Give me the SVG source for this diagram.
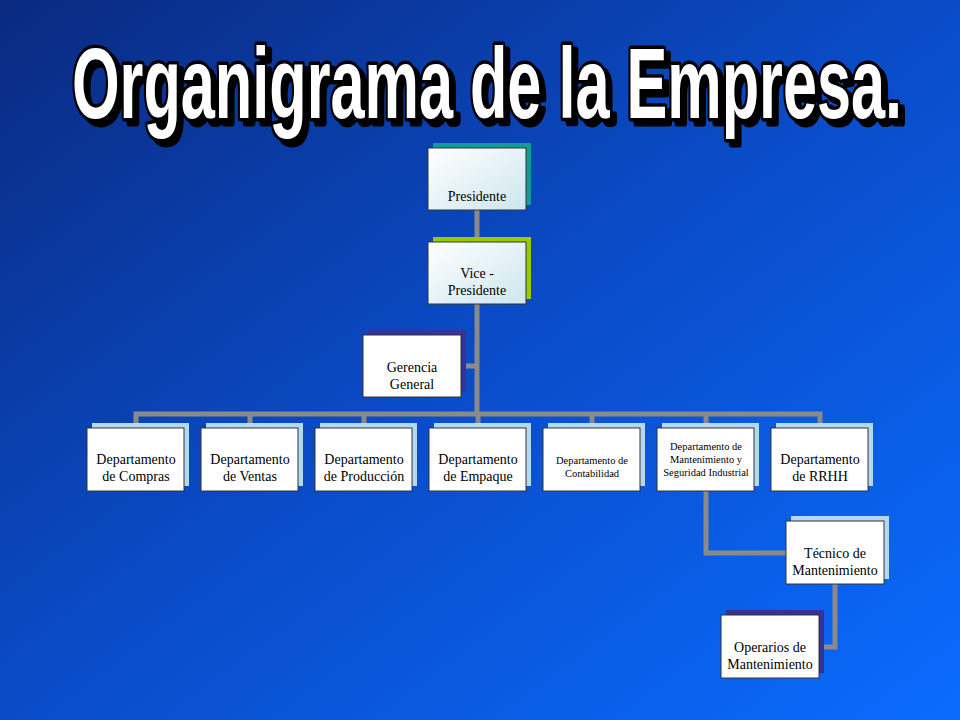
<svg xmlns="http://www.w3.org/2000/svg" width="960" height="720" viewBox="0 0 960 720">
<defs>
<linearGradient id="bg" x1="0" y1="0" x2="1" y2="1">
<stop offset="0" stop-color="#0a2a80"/>
<stop offset="0.5" stop-color="#0a4cc8"/>
<stop offset="1" stop-color="#0a6cff"/>
</linearGradient>
<linearGradient id="tb" x1="0" y1="0" x2="1" y2="1">
<stop offset="0" stop-color="#ffffff"/>
<stop offset="1" stop-color="#cde6ee"/>
</linearGradient>
<filter id="sh" x="-5%" y="-20%" width="110%" height="150%">
<feOffset in="SourceAlpha" dx="5" dy="5" result="o"/>
<feMerge><feMergeNode in="o"/><feMergeNode in="SourceGraphic"/></feMerge>
</filter>
<style>
.box{fill:#fff;stroke:#333;stroke-width:1}
.gbox{fill:url(#tb);stroke:#333;stroke-width:1}
.t{font-family:"Liberation Serif",serif;font-size:14px;fill:#000;text-anchor:middle}
.s{font-family:"Liberation Serif",serif;font-size:10.5px;fill:#000;text-anchor:middle}
.ln{stroke:#8a8a8a;stroke-width:5;fill:none}
.ti{font-family:"Liberation Sans Narrow","Liberation Sans",sans-serif;font-weight:bold;font-size:72px;text-anchor:middle;stroke-linejoin:round;paint-order:stroke}
</style>
</defs>
<rect width="960" height="720" fill="url(#bg)"/>
<g id="title" filter="url(#sh)">
<text class="ti" transform="translate(487,118) scale(1,1.4)" x="0" y="0" textLength="830" lengthAdjust="spacingAndGlyphs" fill="#fff" stroke="#000" stroke-width="5">Organigrama de la Empresa.</text>
</g>
<g id="connectors">
<path class="ln" d="M477 210V414"/>
<path class="ln" d="M461 366H477"/>
<path class="ln" d="M136 428V414H820V428M250 414V428M364 414V428M478 414V428M592 414V428M706 414V428"/>
<path class="ln" d="M706 491V553H786"/>
<path class="ln" d="M835 584V647H819"/>
</g>
<g id="presidente"><rect x="433" y="143" width="98" height="62" fill="#139a9a"/><rect class="gbox" x="428" y="148" width="98" height="62"/><text class="t" x="477" y="201">Presidente</text></g>
<g id="vice"><rect x="433" y="237" width="98" height="62" fill="#99cc00"/><rect class="gbox" x="428" y="242" width="98" height="62"/><text class="t" x="477" y="278">Vice -</text><text class="t" x="477" y="295">Presidente</text></g>
<g id="gerencia"><rect x="368" y="330" width="98" height="62" fill="#333399"/><rect class="box" x="363" y="335" width="98" height="62"/><text class="t" x="412" y="372">Gerencia</text><text class="t" x="412" y="389">General</text></g>
<g id="compras"><rect x="92" y="423" width="97" height="63" fill="#b3d9ee"/><rect class="box" x="87" y="428" width="97" height="63"/><text class="t" x="136" y="464">Departamento</text><text class="t" x="136" y="481">de Compras</text></g>
<g id="ventas"><rect x="206" y="423" width="97" height="63" fill="#b3d9ee"/><rect class="box" x="201" y="428" width="97" height="63"/><text class="t" x="250" y="464">Departamento</text><text class="t" x="250" y="481">de Ventas</text></g>
<g id="produccion"><rect x="320" y="423" width="97" height="63" fill="#b3d9ee"/><rect class="box" x="315" y="428" width="97" height="63"/><text class="t" x="364" y="464">Departamento</text><text class="t" x="364" y="481">de Producción</text></g>
<g id="empaque"><rect x="434" y="423" width="97" height="63" fill="#b3d9ee"/><rect class="box" x="429" y="428" width="97" height="63"/><text class="t" x="478" y="464">Departamento</text><text class="t" x="478" y="481">de Empaque</text></g>
<g id="contabilidad"><rect x="548" y="423" width="97" height="63" fill="#b3d9ee"/><rect class="box" x="543" y="428" width="97" height="63"/><text class="s" x="592" y="464">Departamento  de</text><text class="s" x="592" y="477">Contabilidad</text></g>
<g id="mantenimiento"><rect x="662" y="423" width="97" height="63" fill="#b3d9ee"/><rect class="box" x="657" y="428" width="97" height="63"/><text class="s" x="706" y="450">Departamento  de</text><text class="s" x="706" y="463">Mantenimiento  y</text><text class="s" x="706" y="476">Seguridad Industrial</text></g>
<g id="rrhh"><rect x="776" y="423" width="97" height="63" fill="#b3d9ee"/><rect class="box" x="771" y="428" width="97" height="63"/><text class="t" x="820" y="464">Departamento</text><text class="t" x="820" y="481">de RRHH</text></g>
<g id="tecnico"><rect x="791" y="516" width="98" height="63" fill="#b3d9ee"/><rect class="box" x="786" y="521" width="98" height="63"/><text class="t" x="835" y="558">Técnico de</text><text class="t" x="835" y="575">Mantenimiento</text></g>
<g id="operarios"><rect x="726" y="610" width="98" height="63" fill="#333399"/><rect class="box" x="721" y="615" width="98" height="63"/><text class="t" x="770" y="652">Operarios de</text><text class="t" x="770" y="669">Mantenimiento</text></g>
</svg>
